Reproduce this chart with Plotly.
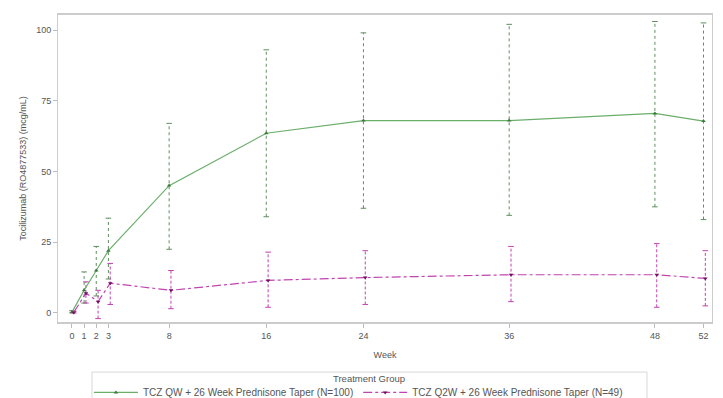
import plotly.graph_objects as go

weeks = [0, 1, 2, 3, 8, 16, 24, 36, 48, 52]

qw_mean = [0.3, 8.0, 15.0, 22.0, 45.0, 63.5, 68.0, 68.0, 70.5, 67.8]
qw_upper = [0.8, 14.5, 23.5, 33.5, 67.0, 93.0, 99.0, 102.0, 103.0, 102.5]
qw_lower = [0.0, 3.5, 6.0, 12.0, 22.5, 34.0, 37.0, 34.5, 37.5, 33.0]

q2w_mean = [0.2, 7.0, 4.0, 10.5, 8.0, 11.5, 12.5, 13.5, 13.5, 12.2]
q2w_upper = [0.6, 11.0, 8.0, 17.5, 15.0, 21.5, 22.0, 23.5, 24.5, 22.0]
q2w_lower = [0.0, 3.5, -2.0, 3.0, 1.5, 2.0, 3.0, 4.0, 2.0, 2.5]

x_ticks = [0, 1, 2, 3, 8, 16, 24, 36, 48, 52]
y_ticks = [0, 25, 50, 75, 100]

name_qw = "TCZ QW + 26 Week Prednisone Taper (N=100)"
name_q2w = "TCZ Q2W + 26 Week Prednisone Taper (N=49)"
legend_title = "Treatment Group"

GREEN = "#6aae6a"
GREEN_BAR = "#5f8f5f"
PURPLE = "#c044b0"
GRAY = "#555555"

fig = go.Figure()


def add_bars(x, lo, hi, color, dash, offset):
    xs, ys = [], []
    for xi, l, h in zip(x, lo, hi):
        xs += [xi + offset, xi + offset, None]
        ys += [l, h, None]
    fig.add_trace(go.Scatter(x=xs, y=ys, mode="lines",
                             line=dict(color=color, width=1, dash=dash),
                             showlegend=False, hoverinfo="skip"))
    fig.add_trace(go.Scatter(x=[xi + offset for xi in x] * 2, y=list(lo) + list(hi),
                             mode="markers",
                             marker=dict(symbol="line-ew", size=4, color=color,
                                         line=dict(color=color, width=1)),
                             showlegend=False, hoverinfo="skip"))


add_bars(weeks, qw_lower, qw_upper, GREEN_BAR, "dot", 0.0)
add_bars(weeks, q2w_lower, q2w_upper, PURPLE, "3px,2px", 0.15)

fig.add_trace(go.Scatter(x=weeks, y=qw_mean, mode="lines+markers", name=name_qw,
                         line=dict(color=GREEN, width=1.2),
                         marker=dict(symbol="triangle-up", size=4, color="#3c7a3c")))
fig.add_trace(go.Scatter(x=[w + 0.15 for w in weeks], y=q2w_mean, mode="lines+markers", name=name_q2w,
                         line=dict(color=PURPLE, width=1.2, dash="dashdot"),
                         marker=dict(symbol="triangle-down", size=4, color="#701060")))

fig.update_layout(
    width=723, height=398,
    margin=dict(l=58, r=11, t=15, b=76),
    plot_bgcolor="white", paper_bgcolor="white",
    font=dict(family="Liberation Sans, Arial, sans-serif", size=9, color=GRAY),
    legend=dict(
        orientation="h", xref="container", yref="container",
        x=0.123, xanchor="left", y=0.0505, yanchor="top",
        borderwidth=0, bgcolor="rgba(0,0,0,0)",
        font=dict(size=10), tracegroupgap=0, itemwidth=44,
    ),
    annotations=[dict(text=legend_title, xref="paper", yref="paper",
                      x=0.476, y=-0.185, xanchor="center", yanchor="middle",
                      showarrow=False, font=dict(size=9.5, color=GRAY))],
    shapes=[dict(type="rect", xref="paper", yref="paper",
                 x0=0.052, x1=0.9006, y0=-0.163, y1=-0.26,
                 line=dict(color="#d8d8d8", width=1))],
)
fig.update_xaxes(range=[-1.15, 52.7], tickmode="array", tickvals=x_ticks,
                 ticktext=[str(t) for t in x_ticks],
                 showgrid=False, zeroline=False, showline=True, linecolor="#cccccc",
                 linewidth=2, mirror=True, ticks="outside", ticklen=4, tickcolor="#bbbbbb",
                 title=dict(text="Week", standoff=12, font=dict(size=9)))
fig.update_yaxes(range=[-3.2, 105.3], tickmode="array", tickvals=y_ticks,
                 showgrid=False, zeroline=False, showline=True, linecolor="#cccccc",
                 linewidth=1, mirror=True, ticks="outside", ticklen=4, tickcolor="#bbbbbb",
                 title=dict(text="Tocilizumab (RO4877533) (mcg/mL)", standoff=8, font=dict(size=9)))

fig.write_html("out.html")
